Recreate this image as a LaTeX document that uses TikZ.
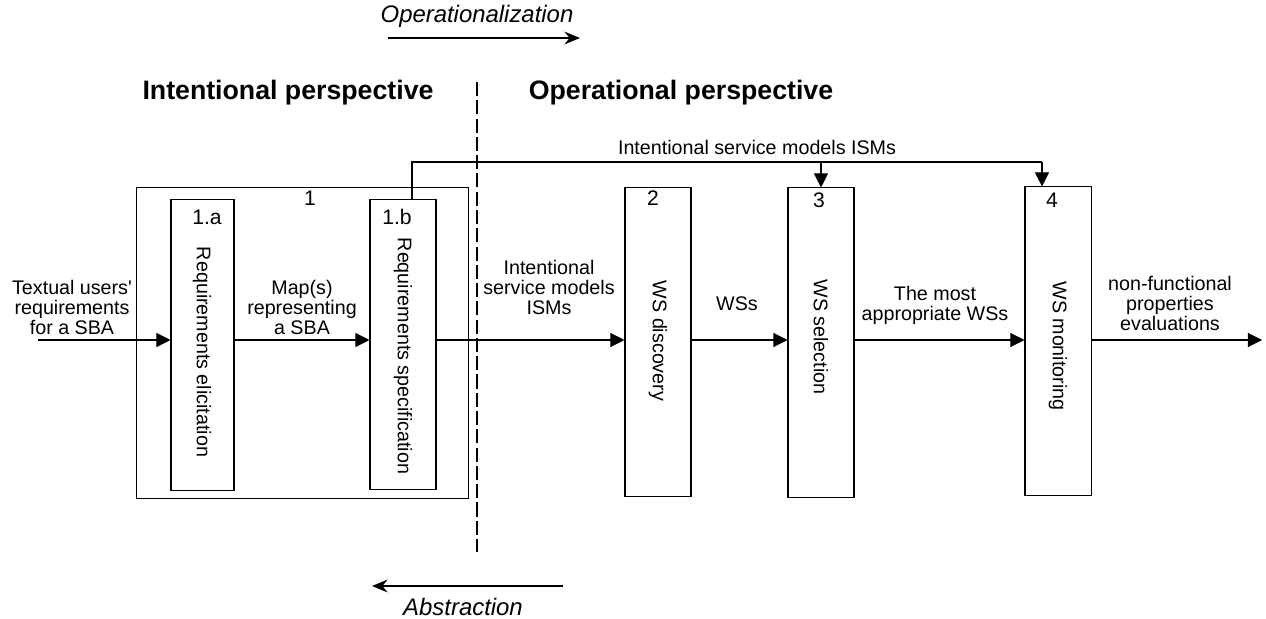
\documentclass[tikz,border=0pt]{standalone}
\usepackage{fontspec}
\setmainfont{Liberation Sans}[Ligatures=TeXOff]
\usetikzlibrary{arrows.meta}
\begin{document}
\begin{tikzpicture}[x=0.025cm, y=-0.025cm, line width=0.75pt,
  box/.style = {draw, minimum width=1.65cm, inner sep=0pt},
  txt/.style = {font=\fontsize{14}{14.2}\selectfont, align=center, inner sep=0pt},
  num/.style = {font=\fontsize{15}{16}\selectfont, inner sep=0pt},
  vtxt/.style = {txt, rotate=-90},
  head/.style = {font=\fontsize{19}{22}\selectfont\bfseries, inner sep=0pt},
  arr/.style = {-{Triangle[length=10pt,width=10pt]}},
  big/.style = {line width=1.6pt, -{Stealth[length=11pt,width=9pt]}}]
\useasboundingbox (0,0) rectangle (1266,618);
% perspectives
\node[head] (ip) at (288,93) {Intentional perspective};
\node[head] (op) at (681,93) {Operational perspective};
\node[txt, font=\fontsize{17}{20}\selectfont\itshape] (opz) at (477,16) {Operationalization};
\node[txt, font=\fontsize{17}{20}\selectfont\itshape] (abs) at (463,607) {Abstraction};
\coordinate (o1) at (388,38);
\coordinate (o2) at (580,38);
\coordinate (a1) at (563,586);
\coordinate (a2) at (372,586);
\draw[big] (o1) -- (o2);
\draw[big] (a1) -- (a2);
\coordinate (d1) at (477,82);
\coordinate (d2) at (477,552);
\draw[line width=1.8pt, dash pattern=on 10pt off 3pt] (d1) -- (d2);
% boxes
\node[box, minimum width=8.275cm, minimum height=7.75cm] (1) at (302.5,343) {};
\node[box, minimum width=1.575cm, minimum height=7.25cm] (1a) at (202.5,345) {};
\node[box, minimum height=7.225cm] (1b) at (403,344.5) {};
\node[box, minimum height=7.7cm] (2) at (658,342) {};
\node[box, minimum height=7.725cm] (3) at (821,342.5) {};
\node[box, minimum height=7.7cm] (4) at (1058,341) {};
\node[num] (n1) at (310,198) {1};
\node[num] (n1a) at (207,217) {1.a};
\node[num] (n1b) at (397,217) {1.b};
\node[num] (n2) at (653,198) {2};
\node[num] (n3) at (819,200) {3};
\node[num] (n4) at (1052,200) {4};
\node[vtxt] (t1a) at (202,352) {Requirements elicitation};
\node[vtxt] (t1b) at (403,356) {Requirements specification};
\node[vtxt] (t2) at (658,341) {WS discovery};
\node[vtxt] (t3) at (821,337) {WS selection};
\node[vtxt] (t4) at (1058,346) {WS monitoring};
% flows
\coordinate (mid) at (0,340);
\coordinate (in) at (38,340);
\coordinate (out) at (1262,340);
\coordinate (up) at (412,162);
\coordinate (upend) at (1042,162);
\draw[arr] (in) -- (1a.west |- mid);
\draw[arr] (1a.east |- mid) -- (1b.west |- mid);
\draw[arr] (1b.east |- mid) -- (2.west |- mid);
\draw[arr] (2.east |- mid) -- (3.west |- mid);
\draw[arr] (3.east |- mid) -- (4.west |- mid);
\draw[arr] (4.east |- mid) -- (out);
\draw (up |- 1b.north) -- (up) -- (upend);
\draw[arr] (3.north |- up) -- (3.north);
\draw[arr] (upend) -- (upend |- 4.north);
% labels
\node[txt] (l0) at (72,307) {Textual users'\\requirements\\for a SBA};
\node[txt] (l1) at (302,307) {Map(s)\\representing\\a SBA};
\node[txt] (l2) at (549,287) {Intentional\\service models\\ISMs};
\node[txt] (l3) at (737,304) {WSs};
\node[txt] (l4) at (935,305) {The most\\appropriate WSs};
\node[txt] (l5) at (1170,303) {non-functional\\properties\\evaluations};
\node[txt] (l6) at (757,147) {Intentional service models ISMs};
\end{tikzpicture}
\end{document}
